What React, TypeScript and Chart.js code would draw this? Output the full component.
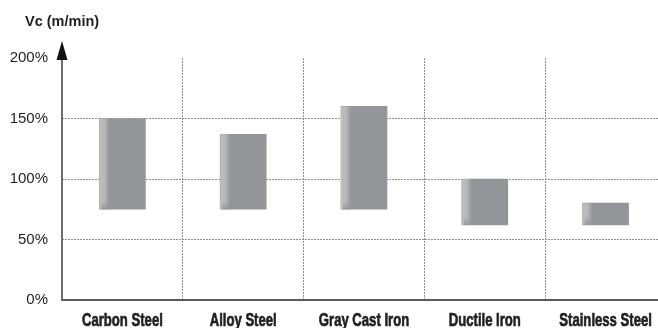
import React, { useEffect, useRef } from "react";
import { Chart, registerables } from "chart.js";

Chart.register(...registerables);

const categories = ["Carbon Steel", "Alloy Steel", "Gray Cast Iron", "Ductile Iron", "Stainless Steel"];
const lowValues = [75, 75, 75, 62, 62];
const highValues = [150, 137, 160, 100, 80];
const yTicks = [0, 50, 100, 150, 200];
const axisTitle = "Vc (m/min)";

const BAR = "#939598";
const TEXT = "#231f20";

const shadePlugin = {
  id: "shade",
  afterDatasetsDraw(chart: any) {
    const ctx = chart.ctx;
    const meta = chart.getDatasetMeta(0);
    meta.data.forEach((el: any) => {
      const left = el.x - el.width / 2;
      const top = Math.min(el.y, el.base);
      const bottom = Math.max(el.y, el.base);
      const w = 10;
      const g = ctx.createLinearGradient(left, 0, left + w, 0);
      g.addColorStop(0, "#bdbec0");
      g.addColorStop(0.5, "#b7b8ba");
      g.addColorStop(1, BAR);
      ctx.save();
      ctx.fillStyle = g;
      ctx.fillRect(left, top, w, bottom - top);
      const gv = ctx.createLinearGradient(0, bottom - 8, 0, bottom);
      gv.addColorStop(0, "rgba(147,149,152,0)");
      gv.addColorStop(1, "rgba(147,149,152,0.9)");
      ctx.fillStyle = gv;
      ctx.fillRect(left + 2, bottom - 8, w - 2, 8);
      ctx.restore();
    });
  },
};

const decorPlugin = {
  id: "decor",
  afterDraw(chart: any) {
    const ctx = chart.ctx;
    const { left, bottom, top } = chart.chartArea;
    ctx.save();
    // y axis line with arrow
    ctx.strokeStyle = "#6d6e71";
    ctx.lineWidth = 2;
    ctx.beginPath();
    ctx.moveTo(left, bottom + 1);
    ctx.lineTo(left, top - 6);
    ctx.stroke();
    ctx.fillStyle = "#111";
    ctx.beginPath();
    ctx.moveTo(left, top - 17);
    ctx.lineTo(left - 5.5, top + 2);
    ctx.lineTo(left + 5.5, top + 2);
    ctx.closePath();
    ctx.fill();
    // axis title
    ctx.fillStyle = TEXT;
    ctx.font = "bold 14.5px 'Liberation Sans', Arial, sans-serif";
    ctx.textAlign = "left";
    ctx.textBaseline = "alphabetic";
    ctx.fillText(axisTitle, 25, 26);
    // category labels (condensed)
    const xs = chart.scales.x;
    ctx.font = "bold 19px 'Liberation Sans', Arial, sans-serif";
    ctx.textAlign = "center";
    ctx.strokeStyle = TEXT;
    ctx.lineWidth = 0.7;
    categories.forEach((c, i) => {
      const x = xs.getPixelForTick(i);
      ctx.save();
      ctx.translate(x, 326);
      ctx.scale(0.69, 1);
      ctx.fillText(c, 0, 0);
      ctx.strokeText(c, 0, 0);
      ctx.restore();
    });
    ctx.restore();
  },
};

export default function App() {
  const ref = useRef<HTMLCanvasElement>(null);
  useEffect(() => {
    if (!ref.current) return;
    const chart = new Chart(ref.current, {
      type: "bar",
      data: {
        labels: categories,
        datasets: [
          {
            data: categories.map((_, i) => [lowValues[i], highValues[i]]) as any,
            backgroundColor: BAR,
            borderWidth: 0,
            barThickness: 46,
          },
        ],
      },
      options: {
        responsive: false,
        animation: false,
        devicePixelRatio: 1,
        layout: { padding: { left: 0, right: 0, top: 58, bottom: 0 } },
        plugins: {
          legend: { display: false },
          tooltip: { enabled: false },
          title: { display: false },
        },
        scales: {
          x: {
            offset: true,
            grid: {
              offset: true,
              drawTicks: false,
              color: (c: any) => (c.index === 0 ? "rgba(0,0,0,0)" : "#8f8f8f"),
              lineWidth: 1,
            },
            border: { display: true, color: "#58595b", width: 2, dash: [2, 1] },
            ticks: { display: false },
            afterFit: (s: any) => {
              s.height = 28;
            },
          },
          y: {
            min: 0,
            max: 200,
            afterBuildTicks: (s: any) => {
              s.ticks = yTicks.map((v) => ({ value: v }));
            },
            grid: {
              drawTicks: false,
              color: (c: any) => (c.tick && (c.tick.value === 0 || c.tick.value === 200) ? "rgba(0,0,0,0)" : "#8f8f8f"),
              lineWidth: 1,
            },
            border: { display: false, dash: [2, 1] },
            ticks: {
              padding: 14,
              color: TEXT,
              font: { family: "'Liberation Sans', Arial, sans-serif", size: 15 },
              callback: (v: any) => v + "%",
            },
            afterFit: (s: any) => {
              s.width = 62;
            },
          },
        },
      },
      plugins: [shadePlugin, decorPlugin],
    });
    return () => chart.destroy();
  }, []);
  return (
    <div style={{ position: "fixed", left: 0, top: 0, width: 658, height: 328, overflow: "hidden", background: "#fff" }}>
      <canvas ref={ref} width={666} height={328} style={{ width: 666, height: 328, display: "block" }} />
    </div>
  );
}
